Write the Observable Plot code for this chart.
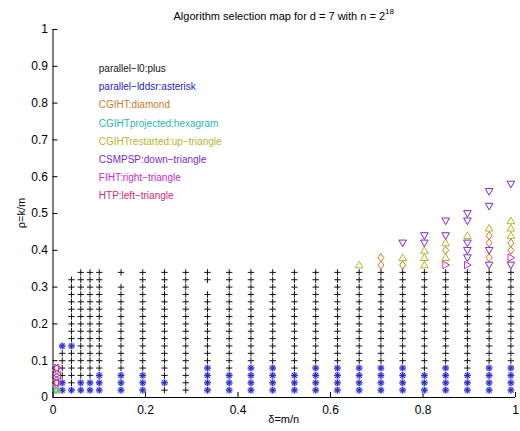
<!DOCTYPE html>
<html><head><meta charset="utf-8">
<script src="https://cdn.jsdelivr.net/npm/d3@7"></script>
<script src="https://cdn.jsdelivr.net/npm/@observablehq/plot@0.6"></script>
<style>body{margin:0;background:#fff}svg{display:block}</style>
</head><body><div id="chart"></div>
<script>
// ---- data ----
// columns of the delta grid
const deltas = [0.006, 0.010, 0.02, 0.04, 0.06, 0.08, 0.100, 0.147, 0.194, 0.241, 0.287, 0.334, 0.381, 0.428, 0.475, 0.522, 0.568, 0.615, 0.662, 0.709, 0.756, 0.803, 0.849, 0.896, 0.943, 0.990];
// rho rows (index 0 = first character of each code string)
const rhoRows = [0.02, 0.04, 0.06, 0.08, 0.10, 0.12, 0.14, 0.16, 0.18, 0.20, 0.22, 0.24, 0.26, 0.28, 0.30, 0.32, 0.34, 0.36, 0.38, 0.40, 0.42, 0.44, 0.46, 0.48, 0.50, 0.52, 0.54, 0.56, 0.58];
// winner per grid point, bottom to top: p=parallel-l0, a=parallel-lddsr, d=CGIHT, h=CGIHTprojected,
// u=CGIHTrestarted, v=CSMPSP, r=FIHT, l=HTP, .=none
const winners = [
  "hlrl",
  "urlr",
  "aappppa",
  "apppppappppppppp",
  "aappppppppppppppp",
  "aappppppppppppppp",
  "aaapppppppppppppp",
  "aaapppppppppppp.p",
  "aaapppppppppppppp",
  "pappppppppppppppp",
  "ppppppppppppppppp",
  "aaaapppppppppp.pp",
  "aaapppppppppppppp",
  "aaaappppppppppppp",
  "aaaappppppppppppp",
  "aaapppppppppppppp",
  "aaaappppppppppppp",
  "aaaappppppppppppp",
  "aaaapppppppppppppu",
  "aaaapppppppppppppdd",
  "aaaapppppppppppppdu.v",
  "aaappppppppppppppuuuvv",
  "aaaapppppppppppppruduv.v",
  "aaapppppppppppppprvvvu.vv",
  "aaaapppppppppppppvdvddu..v.v",
  "aaaapppppppppppppvrdduuu....v"
];
const xTicks = [0, 0.2, 0.4, 0.6, 0.8, 1];
const yTicks = [0, 0.1, 0.2, 0.3, 0.4, 0.5, 0.6, 0.7, 0.8, 0.9, 1];
const algCodes  = ["p", "a", "d", "h", "u", "v", "r", "l"];
const algLabels = ["parallel−l0:plus", "parallel−lddsr:asterisk", "CGIHT:diamond", "CGIHTprojected:hexagram",
                   "CGIHTrestarted:up−triangle", "CSMPSP:down−triangle", "FIHT:right−triangle", "HTP:left−triangle"];
const algColors = ["#111111", "#2323c8", "#c97a2a", "#2ab5b5", "#b5b52a", "#7a2ac9", "#c92ac9", "#c92a7a"];

// ---- build table ----
const points = [];
winners.forEach((s, j) => {
  [...s].forEach((c, i) => { if (c !== ".") points.push({delta: deltas[j], rho: rhoRows[i], alg: c}); });
});

// ---- marker shapes (MATLAB style) ----
const sym = fn => ({draw(c, size) { fn(c, Math.sqrt(size / Math.PI)); }});
const shapes = {
  p: sym((c, r) => { c.moveTo(-r, 0); c.lineTo(r, 0); c.moveTo(0, -r); c.lineTo(0, r); }),
  a: sym((c, r) => { const q = r * 0.72; c.moveTo(-r, 0); c.lineTo(r, 0); c.moveTo(0, -r); c.lineTo(0, r);
                      c.moveTo(-q, -q); c.lineTo(q, q); c.moveTo(-q, q); c.lineTo(q, -q); }),
  d: sym((c, r) => { c.moveTo(0, -r * 1.15); c.lineTo(r * 0.85, 0); c.lineTo(0, r * 1.15); c.lineTo(-r * 0.85, 0); c.closePath(); }),
  h: sym((c, r) => { c.moveTo(0, -r); c.lineTo(r * 0.87, r * 0.5); c.lineTo(-r * 0.87, r * 0.5); c.closePath();
                      c.moveTo(0, r); c.lineTo(r * 0.87, -r * 0.5); c.lineTo(-r * 0.87, -r * 0.5); c.closePath(); }),
  u: sym((c, r) => { c.moveTo(0, -r); c.lineTo(r, r * 0.75); c.lineTo(-r, r * 0.75); c.closePath(); }),
  v: sym((c, r) => { c.moveTo(0, r); c.lineTo(r, -r * 0.75); c.lineTo(-r, -r * 0.75); c.closePath(); }),
  r: sym((c, r) => { c.moveTo(r, 0); c.lineTo(-r * 0.75, -r); c.lineTo(-r * 0.75, r); c.closePath(); }),
  l: sym((c, r) => { c.moveTo(-r, 0); c.lineTo(r * 0.75, -r); c.lineTo(r * 0.75, r); c.closePath(); })
};
const sizes = {p: 3.2, a: 3.3, d: 3.5, h: 3.7, u: 3.8, v: 3.8, r: 3.8, l: 3.8};

// ---- layout ----
const W = 520, H = 431, ML = 52.5, MR = 5, MT = 29, MB = 34;
const FW = W - ML - MR, FH = H - MT - MB;
const font = "'Liberation Sans', Arial, Helvetica, sans-serif";

const dotMarks = [];
algCodes.forEach((c, k) => {
  const data = points.filter(d => d.alg === c);
  if (c === "a") dotMarks.push(Plot.dot(data, {x: "delta", y: "rho", symbol: shapes.a, r: sizes.a, fill: "none", stroke: "#a9a9ee", strokeWidth: 2.4}));
  dotMarks.push(Plot.dot(data, {x: "delta", y: "rho", symbol: shapes[c], r: sizes[c], fill: "none", stroke: algColors[k], strokeWidth: 1}));
});

const legendMarks = algLabels.map((t, i) => Plot.text([t], {
  frameAnchor: "top-left", lineAnchor: "middle", text: d => d, textAnchor: "start", dx: 45.8, dy: 39.3 + 18.2 * i,
  fill: algColors[i], fontSize: 10
}));

const chart = Plot.plot({
  width: W, height: H, marginLeft: ML, marginRight: MR, marginTop: MT, marginBottom: MB,
  x: {domain: [0, 1]},
  y: {domain: [0, 1]},
  style: {fontFamily: font, fontSize: "12px", color: "#000", background: "#fff"},
  marks: [
    Plot.axisX(xTicks, {tickSize: 0, tickPadding: 8, label: null, tickFormat: d => String(d), fontSize: 12}),
    Plot.axisY(yTicks, {tickSize: 0, tickPadding: 5, label: null, tickFormat: d => String(d), fontSize: 12}),
    Plot.tickX(xTicks, {x: d => d, insetTop: FH - 5, stroke: "#000"}),
    Plot.tickY(yTicks, {y: d => d, insetRight: FW - 5, stroke: "#000"}),
    ...dotMarks,
    Plot.ruleX([0], {stroke: "#000"}),
    Plot.ruleY([0], {stroke: "#000"}),
    ...legendMarks
  ]
});
document.getElementById("chart").appendChild(chart);

// titles
const svg = d3.select(chart);
const t = svg.append("text").attr("x", ML + FW / 2).attr("y", 20).attr("text-anchor", "middle")
  .attr("font-family", font).attr("font-size", 11).attr("fill", "#000");
t.append("tspan").text("Algorithm selection map for d = 7 with n = 2");
t.append("tspan").attr("dy", -6).attr("font-size", 8).text("18");
svg.append("text").attr("x", ML + FW / 2).attr("y", 423).attr("text-anchor", "middle")
  .attr("font-family", font).attr("font-size", 11).text("δ=m/n");
svg.append("text").attr("transform", `translate(25,${MT + FH / 2}) rotate(-90)`).attr("text-anchor", "middle")
  .attr("font-family", font).attr("font-size", 11).text("ρ=k/m");
</script></body></html>
